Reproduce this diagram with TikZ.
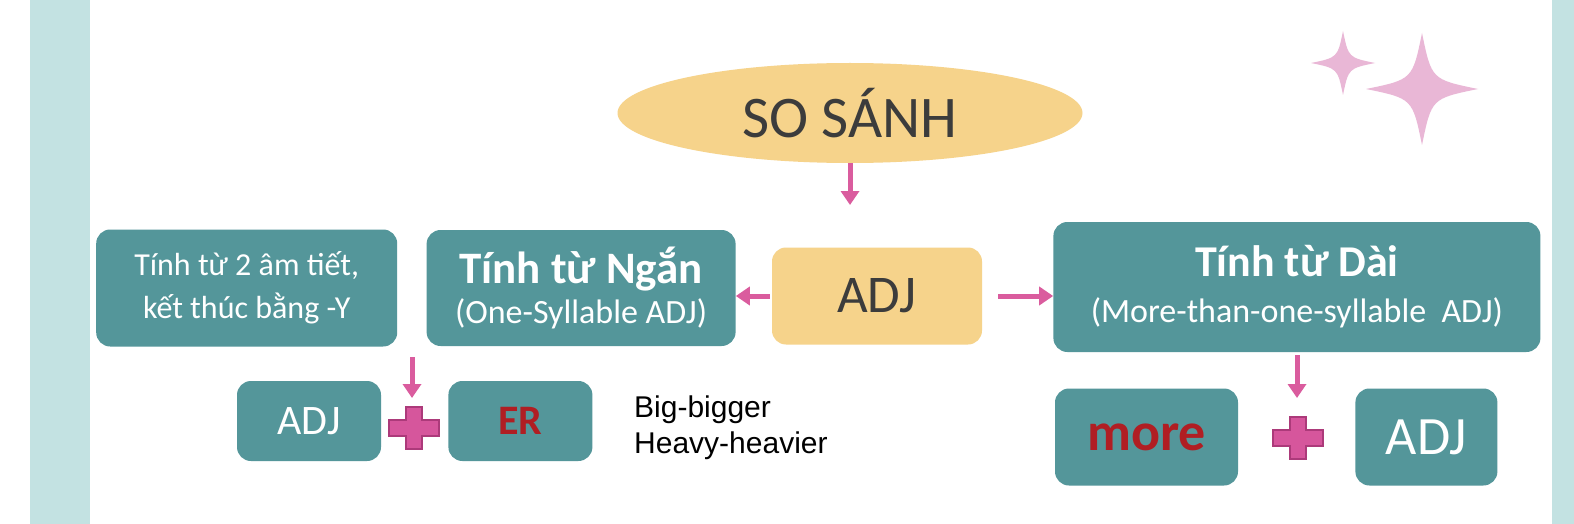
\documentclass[tikz,border=0pt]{standalone}
\usepackage{fontspec}
\setmainfont{Carlito}
\newfontfamily\arialfont{Liberation Sans}
\usetikzlibrary{shapes.geometric, arrows.meta, positioning}

\definecolor{bandteal}{RGB}{195,226,226}
\definecolor{boxteal}{RGB}{84,150,154}
\definecolor{adjyellow}{RGB}{246,211,139}
\definecolor{arrowpink}{RGB}{218,92,158}
\definecolor{plusfill}{RGB}{214,86,156}
\definecolor{plusedge}{RGB}{172,58,122}
\definecolor{sparkpink}{RGB}{233,183,214}
\definecolor{textred}{RGB}{176,30,35}
\definecolor{textdark}{RGB}{60,60,60}

\newcommand\fsz[2]{\fontsize{#1}{#2}\selectfont}

\tikzset{
    plussign/.pic={
        \filldraw[fill=plusfill, draw=plusedge, line width=1.2pt]
            (-25,-8) -- (-8,-8) -- (-8,-21) -- (8,-21) -- (8,-8) -- (25,-8)
            -- (25,8) -- (8,8) -- (8,21) -- (-8,21) -- (-8,8) -- (-25,8) -- cycle;
    },
    sparkle/.pic={
        \fill[sparkpink, scale=#1]
            (0,-1) .. controls (0.17,-0.17) .. (1,0) .. controls (0.17,0.17) .. (0,1)
            .. controls (-0.17,0.17) .. (-1,0) .. controls (-0.17,-0.17) .. cycle;
    }
}

\begin{document}
\begin{tikzpicture}[
    x=1pt, y=-1pt,
    box/.style={rectangle, rounded corners=14pt, fill=boxteal, text=white, inner sep=0pt, align=center},
    yel/.style={rectangle, rounded corners=14pt, fill=adjyellow, text=textdark, inner sep=0pt},
    link/.style={draw=arrowpink, line width=5pt, -{Triangle[width=18pt,length=14pt]}}
]
    \useasboundingbox (0,0) rectangle (1574,524);
    \fill[white] (0,0) rectangle (1574,524);
    \fill[bandteal] (30,0) rectangle (90,524);
    \fill[bandteal] (1552,0) rectangle (1574,524);

    % sparkles
    \pic at (1343,63) {sparkle=32};
    \pic at (1422,89) {sparkle=56};

    % top
    \node[ellipse, fill=adjyellow, minimum width=465pt, minimum height=100pt, inner sep=0pt,
        text=textdark, font=\fsz{59}{65}] (sosanh) at (850,113) {SO SÁNH};
    \node[yel, minimum width=210pt, minimum height=97pt, font=\fsz{53}{60}] (adj) at (877,296) {ADJ};

    % middle row
    \node[box, minimum width=309pt, minimum height=116pt, left=36pt of adj, yshift=8pt,
        font=\fsz{34}{40}] (ngan)
        {{\bfseries\fsz{45}{46}Tính từ Ngắn}\\(One-Syllable ADJ)};
    \node[box, minimum width=301pt, minimum height=117pt, left=29pt of ngan,
        font=\fsz{32}{43}] (haiam)
        {Tính từ 2 âm tiết,\\kết thúc bằng -Y};
    \node[box, minimum width=487pt, minimum height=130pt, right=71pt of adj, yshift=9pt,
        font=\fsz{34}{46}] (dai)
        {{\bfseries\fsz{44}{46}Tính từ Dài}\\(More-than-one-syllable\ \ ADJ)};

    % short adj
    \node[box, minimum width=144pt, minimum height=80pt, font=\fsz{42}{48}] (adjS) at (309,421) {ADJ};
    \node[box, minimum width=144pt, minimum height=80pt, right=67pt of adjS, text=textred,
        font=\bfseries\fsz{42}{48}] (er) {ER};
    \pic (plusL) at (414,428) {plussign};
    \node[anchor=west, align=left, text=black, font=\arialfont\fsz{30}{36}, inner sep=0pt] (vidu)
        at (634,428) {Big-bigger\\Heavy-heavier};

    % long adj
    \node[box, minimum width=183pt, minimum height=97pt, text=textred,
        font=\bfseries\fsz{54}{60}] (more) at (1146.5,437) {more};
    \node[box, minimum width=142pt, minimum height=97pt, right=117pt of more,
        font=\fsz{54}{60}] (adjR) {ADJ};
    \pic (plusR) at (1298,438) {plussign};

    % arrows
    \coordinate (sosanhtip) at (850,205);
    \coordinate (gapL) at (412,357);
    \coordinate (plusLtop) at (412,398);
    \coordinate (plusRtop) at (1297,398);
    \draw[link] (sosanh.south) -- (sosanhtip);
    \draw[link, shorten <=2pt] (adj.west) -- (adj.west -| ngan.east);
    \draw[link, shorten <=16pt] (adj.east) -- (adj.east -| dai.west);
    \draw[link] (gapL) -- (plusLtop);
    \draw[link, shorten <=3pt] (dai.south -| plusRtop) -- (plusRtop);
\end{tikzpicture}
\end{document}
